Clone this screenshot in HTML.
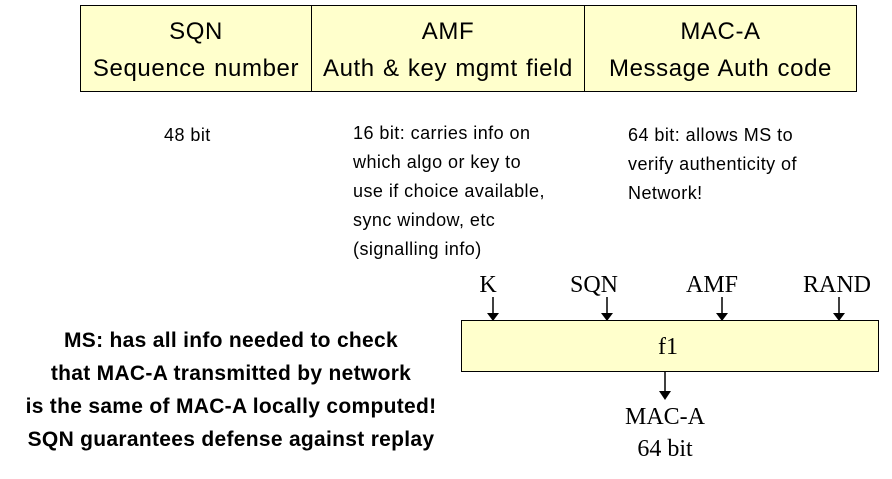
<!DOCTYPE html>
<html><head><meta charset="utf-8"><style>
body{margin:0;width:892px;height:479px;background:#fff;position:relative;overflow:hidden;font-family:"Liberation Sans",Arial,sans-serif;}
.a{position:absolute;}
.cell{position:absolute;top:5px;height:87px;border:1px solid #000;background:#FFFFCC;box-sizing:border-box;text-align:center;font-size:24px;line-height:37px;padding-top:7px;color:#000;letter-spacing:0.6px;word-spacing:1px;white-space:nowrap;}
.s{font-size:18px;line-height:29px;letter-spacing:0.45px;}
.b{font-weight:bold;font-size:21px;text-align:center;line-height:33px;letter-spacing:0.3px;white-space:nowrap;}
</style></head><body>
<div class="cell" style="left:80px;width:232px;">SQN<br>Sequence number</div>
<div class="cell" style="left:311px;width:274px;">AMF<br>Auth &amp; key mgmt field</div>
<div class="cell" style="left:584px;width:273px;">MAC-A<br>Message Auth code</div>
<div class="a s" style="left:164px;top:121px;">48 bit</div>
<div class="a s" style="left:353px;top:119px;">16 bit: carries info on<br>which algo or key to<br>use if choice available,<br>sync window, etc<br>(signalling info)</div>
<div class="a s" style="left:628px;top:121px;">64 bit: allows MS to<br>verify authenticity of<br>Network!</div>
<div class="a b" style="left:0;width:462px;top:324px;">MS: has all info needed to check<br>that MAC-A transmitted by network<br>is the same of MAC-A locally computed!<br>SQN guarantees defense against replay</div>
<svg class="a" style="left:0;top:0" width="892" height="479">
<rect x="461.5" y="320.5" width="417" height="51" fill="#FFFFCC" stroke="#000"/>
<g stroke="#000" stroke-width="1.5">
<line x1="493" y1="297" x2="493" y2="314"/><line x1="607" y1="297" x2="607" y2="314"/>
<line x1="722" y1="297" x2="722" y2="314"/><line x1="839" y1="297" x2="839" y2="314"/>
<line x1="665" y1="372" x2="665" y2="392"/></g>
<g fill="#000">
<polygon points="487,313 499,313 493,321"/><polygon points="601,313 613,313 607,321"/>
<polygon points="716,313 728,313 722,321"/><polygon points="833,313 845,313 839,321"/>
<polygon points="659,391 671,391 665,400"/></g>
<g font-family="Liberation Serif,serif" font-size="24" text-anchor="middle">
<text x="488" y="292">K</text><text x="594" y="292">SQN</text><text x="712" y="292">AMF</text><text x="837" y="292">RAND</text>
<text x="668" y="354">f1</text><text x="665" y="424">MAC-A</text><text x="665" y="456">64 bit</text></g>
</svg>
</body></html>
